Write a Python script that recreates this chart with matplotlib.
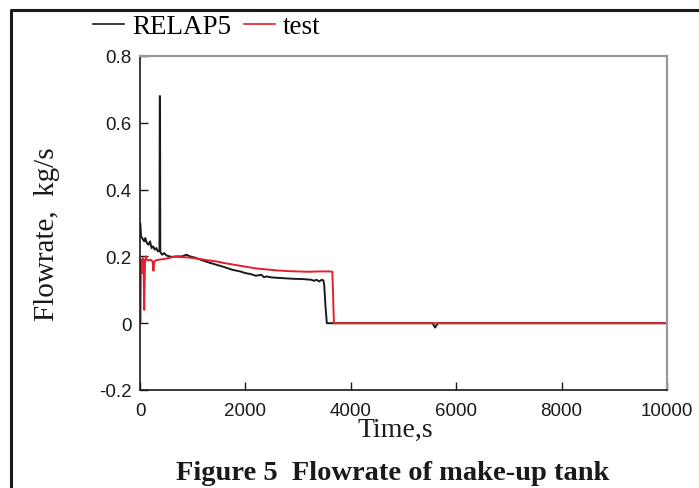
import matplotlib
matplotlib.use("Agg")
import matplotlib.pyplot as plt
from matplotlib.lines import Line2D

# RELAP5 calculation (black)
relap_t = [0, 5, 20, 40, 60, 80, 100, 130, 160, 190, 220, 250, 280, 310, 340, 370,
           375, 380, 385, 390, 420, 460, 500, 560, 620, 700, 800, 880, 950, 1050,
           1150, 1300, 1450, 1600, 1750, 1900, 2000, 2100, 2200, 2300, 2350, 2400,
           2500, 2700, 2900, 3100, 3250, 3300, 3350, 3400, 3450, 3480, 3495, 3520,
           3545, 3600, 5550, 5600, 5650, 10000]
relap_q = [0.30, 0.30, 0.26, 0.255, 0.25, 0.245, 0.255, 0.24, 0.235, 0.245, 0.225,
           0.23, 0.22, 0.225, 0.215, 0.218, 0.68, 0.68, 0.215, 0.212, 0.205, 0.21,
           0.203, 0.2, 0.198, 0.2, 0.2, 0.205, 0.2, 0.196, 0.19, 0.182, 0.175, 0.168,
           0.16, 0.155, 0.15, 0.147, 0.142, 0.145, 0.138, 0.14, 0.137, 0.135, 0.133,
           0.132, 0.13, 0.127, 0.13, 0.125, 0.13, 0.128, 0.115, 0.05, 0.0, 0.0, 0.0,
           -0.013, 0.0, 0.0]

# test data (red)
test_t = [0, 10, 15, 25, 35, 50, 65, 80, 95, 110, 130, 160, 200, 240, 255, 270, 300,
          350, 450, 550, 650, 750, 900, 1000, 1150, 1300, 1450, 1600, 1750, 1900,
          2050, 2200, 2400, 2600, 2800, 3000, 3200, 3400, 3600, 3650, 3680, 10000]
test_q = [0.0, 0.0, 0.17, 0.19, 0.15, 0.195, 0.19, 0.04, 0.18, 0.2, 0.19, 0.188,
          0.19, 0.185, 0.157, 0.185, 0.188, 0.19, 0.192, 0.195, 0.2, 0.198, 0.197,
          0.195, 0.192, 0.188, 0.185, 0.18, 0.176, 0.172, 0.168, 0.164, 0.161,
          0.158, 0.156, 0.155, 0.154, 0.155, 0.155, 0.154, 0.0, 0.0]

xticks = [0, 2000, 4000, 6000, 8000, 10000]
yticks = [-0.2, 0, 0.2, 0.4, 0.6, 0.8]
ytick_labels = ["-0.2", "0", "0.2", "0.4", "0.6", "0.8"]

serif = "Liberation Serif"
sans = "Liberation Sans"

fig = plt.figure(figsize=(6.99, 4.89), dpi=100)
ax = fig.add_axes([140 / 699, 98 / 489, 527 / 699, 334 / 489])

ax.plot(relap_t, relap_q, color="#1a1a1a", lw=1.4, label="RELAP5")
ax.plot(test_t, test_q, color="#e3202b", lw=1.4, label="test")

ax.set_xlim(0, 10000)
ax.set_ylim(-0.2, 0.8)
ax.set_xticks(xticks)
ax.set_xticklabels([str(x) for x in xticks], fontname=sans, fontsize=13.5)
ax.set_yticks(yticks)
ax.set_yticklabels(ytick_labels, fontname=sans, fontsize=13.5)
ax.tick_params(axis="x", direction="in", length=6, width=1, pad=9, colors="#1a1a1a")
ax.tick_params(axis="y", direction="in", length=6, width=1, pad=6, colors="#1a1a1a")

for s in ["left", "bottom"]:
    ax.spines[s].set_color("#1a1a1a")
    ax.spines[s].set_linewidth(1.2)
for s in ["top", "right"]:
    ax.spines[s].set_color("#999999")
    ax.spines[s].set_linewidth(1.6)

# axis labels and caption
fig.text(395 / 699, 1 - 430 / 489, "Time,s", fontname=serif, fontsize=20,
         ha="center", va="center", color="#1a1a1a")
fig.text(47 / 699, 1 - 234 / 489, "Flowrate,  kg/s", fontname=serif, fontsize=21,
         ha="center", va="center", rotation=90, color="#1a1a1a")
fig.text(393 / 699, 1 - 474 / 489, "Figure 5  Flowrate of make-up tank", fontname=serif,
         fontsize=20.5, fontweight="bold", ha="center", va="center", color="#1a1a1a")

leg = ax.legend(loc="center", bbox_to_anchor=(207 / 699, 1 - 28 / 489),
                bbox_transform=fig.transFigure, ncol=2, frameon=False,
                handlelength=1.15, handletextpad=0.3, columnspacing=0.45,
                prop={"family": serif, "size": 19.5})
for h in leg.get_lines():
    h.set_linewidth(1.2)

# outer frame (left and top edges of the page box)
fig.add_artist(Line2D([11 / 699, 11 / 699, 1.0], [0.0, 1 - 11 / 489, 1 - 11 / 489],
                      transform=fig.transFigure, color="#1a1a1a", lw=2.2))

fig.savefig("out.png", dpi=100)
